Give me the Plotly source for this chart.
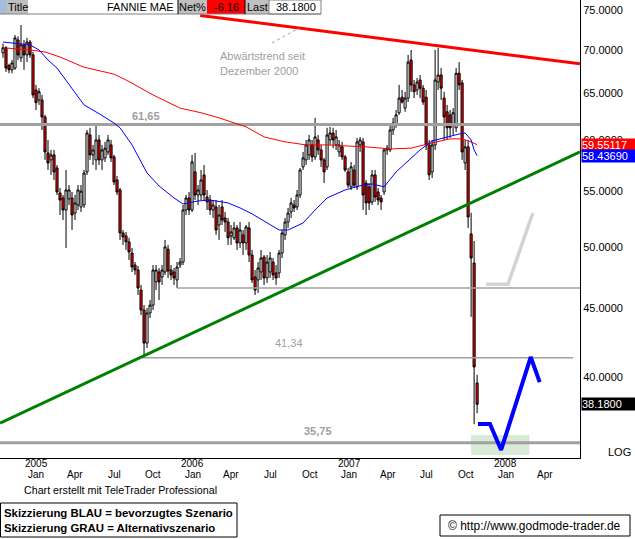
import math
import pandas as pd
import plotly.graph_objects as go

# ---------------- data (weekly candles) ----------------
dates = pd.date_range("2004-10-08", periods=159, freq="7D")

ohlc = [
    (69.7, 70.8, 69.1, 70.3), (70.3, 70.5, 67.45, 67.9), (68.2, 68.4, 67.3, 67.7), (67.7, 68.85, 67.3, 68.5),
    (67.9, 71.86, 67.7, 71.5), (71.25, 71.7, 68.85, 69.45), (69.1, 73.1, 68.6, 70.65), (70.65, 71.25, 67.7, 69.45),
    (69.45, 71.5, 68.6, 71.0), (71.0, 71.25, 69.1, 69.45), (69.45, 69.8, 64.5, 64.85), (65.4, 65.97, 63.2, 64.0),
    (64.29, 65.6, 63.75, 65.2), (64.29, 64.85, 61.07, 62.45), (62.45, 62.67, 58.02, 58.82), (58.72, 60.04, 57.03, 57.72),
    (58.02, 59.02, 56.55, 58.52), (58.52, 59.02, 56.06, 56.84), (57.23, 57.52, 54.64, 54.92), (54.83, 55.3, 52.8, 54.17),
    (54.36, 54.64, 52.35, 53.25), (53.25, 57.03, 49.9, 55.11), (54.27, 55.58, 53.71, 55.11), (54.36, 54.92, 51.46, 52.8),
    (52.98, 54.64, 52.35, 53.9), (53.71, 55.58, 53.25, 55.11), (53.53, 55.58, 53.07, 55.0), (53.71, 57.03, 53.44, 56.74),
    (56.84, 61.07, 56.55, 60.76), (60.55, 61.3, 58.02, 58.52), (58.52, 59.53, 57.52, 59.02), (58.02, 61.6, 57.03, 60.04),
    (60.04, 60.55, 57.52, 58.02), (58.02, 59.53, 57.03, 59.02), (58.22, 59.84, 57.82, 59.2), (58.82, 60.55, 58.52, 60.04),
    (59.53, 60.04, 57.82, 58.22), (58.32, 58.52, 55.58, 55.87), (56.06, 56.45, 54.64, 54.92), (55.11, 55.3, 50.59, 51.2),
    (51.2, 51.46, 50.16, 50.85), (50.94, 51.29, 49.73, 50.42), (50.42, 50.77, 48.88, 49.56), (49.47, 49.9, 47.89, 48.3),
    (48.46, 48.71, 47.65, 48.05), (48.05, 48.38, 46.04, 46.6), (46.43, 46.84, 44.49, 44.87), (44.87, 45.25, 41.4, 42.4),
    (42.4, 45.02, 42.04, 44.64), (44.64, 45.64, 44.26, 45.25), (45.25, 48.46, 44.87, 48.05), (47.08, 48.46, 46.43, 48.05),
    (47.89, 48.22, 45.64, 47.08), (47.48, 48.46, 46.84, 48.05), (47.89, 50.59, 47.65, 49.99), (49.8, 50.16, 47.4, 47.97),
    (48.05, 48.46, 47.24, 47.65), (47.89, 48.22, 46.84, 47.4), (47.24, 48.71, 46.6, 48.3), (48.46, 49.05, 48.22, 48.71),
    (48.71, 53.71, 48.46, 53.25), (53.25, 54.64, 52.8, 54.36), (54.36, 54.92, 52.8, 53.25), (53.25, 58.52, 53.07, 57.82),
    (56.84, 58.72, 54.17, 54.64), (54.64, 55.58, 53.71, 55.11), (54.64, 57.03, 54.17, 56.06), (56.55, 57.52, 54.17, 54.64),
    (54.45, 55.11, 53.25, 53.99), (54.17, 54.64, 52.8, 53.25), (53.25, 54.17, 52.53, 53.71), (53.53, 54.17, 51.03, 51.46),
    (51.9, 53.71, 50.59, 52.8), (53.53, 54.17, 51.9, 52.35), (52.53, 53.07, 51.29, 52.17), (52.17, 52.53, 50.16, 50.77),
    (50.94, 51.9, 50.16, 51.29), (50.77, 52.17, 50.59, 51.64), (51.64, 51.9, 49.73, 50.33), (50.33, 52.17, 49.9, 51.46),
    (51.03, 51.46, 49.3, 50.33), (50.33, 51.9, 49.73, 51.73), (51.64, 52.17, 48.71, 49.3), (49.3, 49.73, 47.0, 47.24),
    (47.48, 48.05, 46.04, 46.43), (47.24, 48.71, 46.2, 48.22), (47.89, 49.73, 47.24, 49.05), (49.13, 49.3, 46.84, 47.4),
    (47.4, 49.3, 47.0, 48.71), (47.89, 49.56, 47.4, 49.05), (48.71, 49.05, 47.24, 47.65), (47.81, 48.46, 46.84, 47.4),
    (47.81, 49.73, 47.4, 49.47), (49.47, 51.46, 49.05, 51.2), (51.03, 52.53, 50.59, 52.17), (52.17, 53.44, 51.64, 52.98),
    (53.07, 54.36, 52.53, 53.9), (53.71, 54.17, 53.07, 53.44), (53.53, 55.11, 53.25, 54.64), (54.64, 57.23, 54.36, 57.03),
    (57.33, 58.82, 57.03, 58.22), (58.02, 60.04, 57.52, 59.53), (58.52, 60.55, 58.02, 60.04), (59.53, 60.04, 57.82, 58.32),
    (58.32, 62.35, 58.02, 60.35), (60.04, 60.55, 58.52, 59.02), (59.02, 59.53, 57.33, 58.02), (58.02, 58.22, 55.77, 56.84),
    (57.33, 61.3, 57.03, 60.55), (60.04, 61.4, 59.53, 60.76), (60.76, 61.3, 59.2, 60.04), (59.53, 61.07, 59.02, 60.35),
    (58.82, 60.04, 58.32, 59.53), (59.33, 59.84, 58.02, 58.32), (58.32, 58.52, 56.84, 57.03), (56.84, 57.23, 55.3, 55.58),
    (55.4, 57.82, 55.11, 57.33), (57.03, 57.52, 55.3, 55.58), (55.4, 60.25, 55.11, 59.84), (59.53, 60.35, 58.82, 60.04),
    (59.84, 60.25, 53.25, 54.64), (55.77, 56.06, 52.8, 53.9), (55.4, 55.77, 53.25, 53.9), (53.99, 57.03, 53.71, 56.55),
    (56.55, 57.03, 53.99, 54.45), (54.92, 55.3, 53.71, 54.17), (54.36, 54.64, 53.25, 53.99), (54.92, 59.2, 54.64, 59.02),
    (59.02, 59.53, 58.52, 59.2), (59.02, 61.6, 58.82, 61.07), (61.07, 62.35, 60.55, 61.8), (61.6, 63.2, 61.3, 62.67),
    (62.9, 65.97, 62.67, 64.5), (64.6, 65.4, 63.9, 64.07), (63.4, 65.2, 63.0, 64.5), (64.5, 69.45, 64.07, 68.6),
    (68.85, 70.04, 65.2, 65.97), (65.97, 66.53, 64.5, 65.2), (65.4, 66.75, 64.85, 66.3), (66.53, 67.1, 64.5, 65.6),
    (65.6, 65.97, 63.75, 64.07), (64.6, 65.4, 59.02, 59.53), (59.53, 60.04, 56.06, 56.55), (56.84, 60.04, 56.25, 59.53),
    (59.53, 70.04, 59.02, 66.53), (66.3, 70.3, 65.4, 67.1), (67.1, 67.9, 64.29, 65.6), (64.5, 65.2, 60.04, 62.45),
    (63.0, 63.75, 60.04, 61.3), (62.67, 63.2, 60.25, 61.3), (61.6, 63.4, 60.55, 62.9), (61.3, 67.9, 60.86, 67.3),
    (67.3, 68.6, 65.4, 65.97), (66.2, 66.53, 58.02, 58.82), (57.72, 60.04, 57.03, 59.33), (59.33, 60.04, 51.64, 52.62),
    (51.11, 53.0, 44.34, 49.05), (48.63, 50.5, 36.9, 40.7), (39.6, 40.15, 37.6, 38.18),
]
opens = [r[0] for r in ohlc]
highs = [r[1] for r in ohlc]
lows = [r[2] for r in ohlc]
closes = [r[3] for r in ohlc]

# moving averages (read at selected weeks)
red_ma_week = [0, 9, 14, 19, 27, 33, 37, 41, 44, 50, 59, 66, 72, 81, 87, 94, 101, 108, 114, 121, 129, 136, 143, 149, 153, 156, 158]
red_ma_val = [70.3, 70.04, 69.8, 69.2, 68.0, 67.55, 67.2, 66.53, 65.97, 64.85, 63.4, 62.9, 62.35, 61.4, 60.35, 59.84,
              59.53, 59.53, 59.43, 59.33, 59.12, 59.2, 59.73, 60.15, 60.15, 59.84, 59.55117]
blue_ma_week = [0, 9, 12, 15, 18, 22, 27, 32, 37, 39, 43, 48, 52, 57, 60, 65, 69, 75, 79, 83, 87, 92, 95, 100, 104,
                108, 114, 120, 123, 127, 131, 136, 139, 143, 148, 152, 154, 156, 157, 158]
blue_ma_val = [71.0, 70.65, 70.04, 68.85, 67.9, 65.97, 63.75, 62.8, 61.8, 61.3, 59.53, 56.74, 55.49, 54.36, 53.8, 54.08,
               54.17, 53.9, 53.44, 52.9, 52.26, 51.46, 51.46, 52.08, 53.25, 54.36, 55.11, 55.58, 55.68, 55.4, 56.84,
               58.22, 59.02, 59.94, 60.35, 60.65, 60.76, 60.04, 59.02, 58.4369]

# trend lines
red_trend_dates = ["2006-01-11", "2008-06-15"]
red_trend_vals = [74.3, 68.4]
green_trend_dates = ["2004-10-01", "2008-06-15"]
green_trend_vals = [36.97, 58.82]

# horizontal levels
levels = [61.65, 46.6, 41.34, 35.75]
level_start = ["2004-10-01", "2005-11-18", "2005-08-28", "2004-10-01"]
level_end = ["2008-06-15", "2008-06-15", "2008-05-30", "2008-06-15"]
level_width = [3, 1.5, 1.5, 3]
level_labels = ["61,65", "", "41,34", "35,75"]

# scenario sketches
blue_dates = ["2007-10-21", "2007-11-18", "2007-12-14", "2008-02-21", "2008-03-13"]
blue_vals = [36.92, 36.92, 35.31, 41.4, 39.66]
gray_dates = ["2007-11-09", "2007-12-30", "2008-02-26"]
gray_vals = [46.9, 46.9, 52.98]
zone_dates = ["2007-10-05", "2008-02-18"]
zone_vals = [35.0, 36.22]

tick_dates = ["2005-01-01", "2005-04-01", "2005-07-01", "2005-10-01", "2006-01-01", "2006-04-01", "2006-07-01",
              "2006-10-01", "2007-01-01", "2007-04-01", "2007-07-01", "2007-10-01", "2008-01-01", "2008-04-01"]
tick_years = ["2005", "", "", "", "2006", "", "", "", "2007", "", "", "", "2008", ""]
tick_months = ["Jan", "Apr", "Jul", "Oct", "Jan", "Apr", "Jul", "Oct", "Jan", "Apr", "Jul", "Oct", "Jan", "Apr"]
y_ticks = [40, 45, 50, 55, 60, 65, 70, 75]
y_ticktext = ["%.4f" % v for v in y_ticks]

last_price = 38.18
net_pct = "-6.16"
red_ma_last = 59.55117
blue_ma_last = 58.43690

# ---------------- layout helpers ----------------
W, H = 635, 539
PL, PR, PT, PB = 0, 580, 0, 458
FONT = "Liberation Sans, Arial, sans-serif"


def px(x):
    return (x - PL) / (PR - PL)


def py(y):
    return 1 - (y - PT) / (PB - PT)


fig = go.Figure()

# level lines
for v, s, e, w in zip(levels, level_start, level_end, level_width):
    fig.add_trace(go.Scatter(x=[s, e], y=[v, v], mode="lines", line=dict(color="#a0a0a0", width=w),
                             hoverinfo="skip", showlegend=False))

# moving averages
fig.add_trace(go.Scatter(x=[dates[i] for i in red_ma_week], y=red_ma_val, mode="lines",
                         line=dict(color="#ff0000", width=1), hoverinfo="skip", showlegend=False))
fig.add_trace(go.Scatter(x=[dates[i] for i in blue_ma_week], y=blue_ma_val, mode="lines",
                         line=dict(color="#0000ff", width=1), hoverinfo="skip", showlegend=False))

# candles
fig.add_trace(go.Candlestick(
    x=dates, open=opens, high=highs, low=lows, close=closes,
    increasing=dict(line=dict(color="black", width=1), fillcolor="white"),
    decreasing=dict(line=dict(color="black", width=1), fillcolor="#ff0000"),
    whiskerwidth=0, hoverinfo="skip", showlegend=False))

# trend lines
fig.add_trace(go.Scatter(x=red_trend_dates, y=red_trend_vals, mode="lines",
                         line=dict(color="#ff0000", width=3), hoverinfo="skip", showlegend=False))
fig.add_trace(go.Scatter(x=green_trend_dates, y=green_trend_vals, mode="lines",
                         line=dict(color="#008000", width=3), hoverinfo="skip", showlegend=False))

# scenario sketches
fig.add_trace(go.Scatter(x=gray_dates, y=gray_vals, mode="lines",
                         line=dict(color="#d3d3d3", width=3.5), hoverinfo="skip", showlegend=False))
fig.add_trace(go.Scatter(x=blue_dates, y=blue_vals, mode="lines",
                         line=dict(color="#0000ff", width=4), hoverinfo="skip", showlegend=False))

shapes = []
# target zone
shapes.append(dict(type="rect", xref="x", yref="y", x0=zone_dates[0], x1=zone_dates[1], y0=zone_vals[0],
                   y1=zone_vals[1], fillcolor="#d8ead6", line=dict(width=0), layer="below"))


def prect(x0, y0, x1, y1, fill, line=None):
    shapes.append(dict(type="rect", xref="paper", yref="paper", x0=px(x0), x1=px(x1), y0=py(y1), y1=py(y0),
                       fillcolor=fill, line=line or dict(width=0), layer="above"))


def pline(x0, y0, x1, y1, color, width=1, dash=None):
    shapes.append(dict(type="line", xref="paper", yref="paper", x0=px(x0), x1=px(x1), y0=py(y0), y1=py(y1),
                       line=dict(color=color, width=width, dash=dash), layer="above"))


# header bar
prect(0, 0, 321, 14, "white")
prect(0, 0, 7, 14, "#a6bcdc")
prect(7, 0, 28, 14, "#c0c0c0")
prect(178, 0, 207, 14, "#c0c0c0")
prect(207, 0, 245, 14, "#ff0000")
prect(245, 0, 269, 14, "#c0c0c0")
prect(269, 0, 321, 14, "white", dict(color="#808080", width=1))
pline(0, 14, 321, 14, "#808080", 1)
pline(178, 0, 178, 14, "black", 1)
pline(245, 0, 245, 14, "black", 1)
# pointer for the downtrend note
pline(272, 43, 299, 28, "#a0a0a0", 1, "dot")
# legend boxes below
prect(0.5, 503, 237, 537, "rgba(0,0,0,0)", dict(color="black", width=1))
prect(440, 515, 630, 536, "rgba(0,0,0,0)", dict(color="black", width=1))

ann = []


def ptext(x, y, text, size=11, color="black", anchor="left", bold=False, **kw):
    if bold:
        text = "<b>%s</b>" % text
    ann.append(dict(xref="paper", yref="paper", x=px(x), y=py(y), text=text, showarrow=False,
                    xanchor=anchor, yanchor="middle", font=dict(family=FONT, size=size, color=color), **kw))


ptext(17.5, 7, "Title", anchor="center")
ptext(176, 7, "FANNIE MAE", anchor="right")
ptext(192.5, 7, "Net%", anchor="center")
ptext(226, 7, net_pct, anchor="center")
ptext(257, 7, "Last", anchor="center")
ptext(318, 7, "%.4f" % last_price, anchor="right")

ptext(218, 56, "Abwärtstrend seit", color="#a0a0a0")
ptext(218, 71, "Dezember 2000", color="#a0a0a0")

ptext(146, 116, level_labels[0], color="#a0a0a0", anchor="center", bold=True)
ptext(289, 343, level_labels[2], color="#a0a0a0", anchor="center")
ptext(318, 431, level_labels[3], color="#a0a0a0", anchor="center", bold=True)

ptext(633, 452, "LOG", anchor="right")
ptext(22, 490, "Chart erstellt mit TeleTrader Professional", size=10.7)
ptext(2, 513, "Skizzierung BLAU = bevorzugtes Szenario", size=11.4, bold=True)
ptext(2, 528, "Skizzierung GRAU = Alternativszenario", size=11.4, bold=True)
ptext(446, 525.5, "© http://www.godmode-trader.de", size=12)

# x-axis labels (year over month)
for d, yr, mo in zip(tick_dates, tick_years, tick_months):
    for txt, yy in [(yr, 463), (mo, 474)]:
        if txt:
            ann.append(dict(xref="x", yref="paper", x=d, y=py(yy), text=txt, showarrow=False, xanchor="center",
                            yanchor="middle", xshift=-3, font=dict(family=FONT, size=10, color="black")))

for val, bg, txt in [(red_ma_last, "#ff0000", "%.5f" % red_ma_last),
                     (blue_ma_last, "#0000ff", "%.5f" % blue_ma_last),
                     (last_price, "black", "%.4f" % last_price)]:
    ann.append(dict(xref="paper", yref="y", x=px(581), y=math.log10(val), text=txt, showarrow=False,
                    xanchor="left", yanchor="middle", align="left", width=54, height=12, borderpad=0,
                    bgcolor=bg, font=dict(family=FONT, size=11, color="white")))

ymin = 75 * math.exp(-(PB - 10) / 584)
ymax = 75 * math.exp(10 / 584)

fig.update_layout(
    width=W, height=H, margin=dict(l=PL, r=W - PR, t=PT, b=H - PB, autoexpand=False),
    paper_bgcolor="white", plot_bgcolor="white", showlegend=False, boxgap=0.0,
    font=dict(family=FONT, size=11, color="black"),
    shapes=shapes, annotations=ann,
    xaxis=dict(type="date", range=["2004-10-01", "2008-06-15"], showgrid=False, zeroline=False, automargin=False,
               showline=True, linecolor="black", linewidth=1, ticks="", showticklabels=False,
               rangeslider=dict(visible=False), fixedrange=True),
    yaxis=dict(type="log", range=[math.log10(ymin), math.log10(ymax)], side="right", showgrid=False,
               zeroline=False, showline=True, linecolor="black", linewidth=1, ticks="", tickvals=y_ticks,
               automargin=False, ticktext=y_ticktext, tickfont=dict(size=11), fixedrange=True),
)

fig.write_html("out.html", config={"displayModeBar": False},
               post_script="document.body.style.margin='0';document.body.style.padding='0';")
